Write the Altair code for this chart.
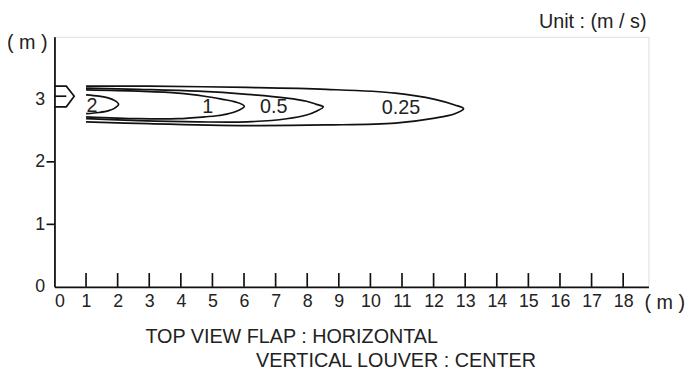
import altair as alt
import pandas as pd

# ---- data ----
X_TICKS = list(range(0, 19))
Y_TICKS = [0, 1, 2, 3]

# contour 0.25 (upper edge left->tip, then lower edge tip->left)
C025_X_UP = [1.0, 2.97, 6.10, 8.60, 10.79, 12.04, 12.67, 12.95]
C025_Y_UP = [3.21, 3.21, 3.19, 3.16, 3.10, 3.00, 2.91, 2.85]
C025_X_LO = [12.67, 12.04, 10.79, 8.60, 6.10, 2.97, 1.0]
C025_Y_LO = [2.77, 2.70, 2.62, 2.59, 2.58, 2.61, 2.64]

C05_X_UP = [1.0, 2.66, 4.54, 6.10, 7.35, 7.98, 8.29, 8.51]
C05_Y_UP = [3.18, 3.16, 3.13, 3.08, 3.02, 2.97, 2.92, 2.88]
C05_X_LO = [8.29, 7.98, 7.35, 6.10, 4.54, 2.66, 1.0]
C05_Y_LO = [2.81, 2.75, 2.69, 2.64, 2.64, 2.66, 2.69]

C1_X_UP = [1.0, 2.66, 3.91, 4.75, 5.32, 5.72, 6.01]
C1_Y_UP = [3.15, 3.13, 3.10, 3.05, 3.00, 2.96, 2.89]
C1_X_LO = [5.72, 5.32, 4.75, 3.91, 2.66, 1.0]
C1_Y_LO = [2.80, 2.75, 2.72, 2.69, 2.69, 2.72]

C2_X_UP = [1.0, 1.41, 1.72, 1.91, 2.03]
C2_Y_UP = [3.07, 3.05, 3.02, 2.98, 2.92]
C2_X_LO = [1.91, 1.72, 1.41, 1.0]
C2_Y_LO = [2.86, 2.82, 2.79, 2.77]

LABELS = ["2", "1", "0.5", "0.25"]
LABEL_X = [1.19, 4.85, 6.94, 10.97]
LABEL_Y = [2.89, 2.88, 2.87, 2.86]

# outlet arrow outline
ARROW_X = [0.0, 0.375, 0.625, 0.375, 0.0]
ARROW_Y = [3.21, 3.21, 3.05, 2.88, 2.88]
ARROW_MID_X = [0.0, 0.375]
ARROW_MID_Y = [3.05, 3.05]

FONT = "Liberation Sans"

rows = []
for name, xu, yu, xl, yl in [
    ("0.25", C025_X_UP, C025_Y_UP, C025_X_LO, C025_Y_LO),
    ("0.5", C05_X_UP, C05_Y_UP, C05_X_LO, C05_Y_LO),
    ("1", C1_X_UP, C1_Y_UP, C1_X_LO, C1_Y_LO),
    ("2", C2_X_UP, C2_Y_UP, C2_X_LO, C2_Y_LO),
]:
    xs = xu + xl
    ys = yu + yl
    for i, (a, b) in enumerate(zip(xs, ys)):
        rows.append({"c": name, "i": i, "x": a, "y": b})
contours = pd.DataFrame(rows)

arrow_rows = [{"g": "outline", "i": i, "x": a, "y": b} for i, (a, b) in enumerate(zip(ARROW_X, ARROW_Y))]
arrow_rows += [{"g": "mid", "i": i, "x": a, "y": b} for i, (a, b) in enumerate(zip(ARROW_MID_X, ARROW_MID_Y))]
arrow = pd.DataFrame(arrow_rows)

labels = pd.DataFrame({"t": LABELS, "x": LABEL_X, "y": LABEL_Y})
xt = pd.DataFrame({"x": X_TICKS[1:]})
yt = pd.DataFrame({"y": [1, 2]})

xscale = alt.Scale(domain=[0, 18.8], nice=False, zero=False)
yscale = alt.Scale(domain=[0, 4], nice=False, zero=False)

xaxis = alt.Axis(values=X_TICKS, ticks=False, grid=False, title=None, labelFlush=True,
                 labelOverlap=False, format="d",
                 labelFont=FONT, labelFontSize=18, labelColor="#222", labelPadding=6,
                 domainColor="#111", domainWidth=1.8, labelAngle=0)
yaxis = alt.Axis(values=Y_TICKS, ticks=False, grid=False, title=None,
                 labelOverlap=False, format="d",
                 labelFont=FONT, labelFontSize=18, labelColor="#222", labelPadding=10,
                 domainColor="#111", domainWidth=1.8)

X = alt.X("x:Q", scale=xscale, axis=xaxis)
Y = alt.Y("y:Q", scale=yscale, axis=yaxis)

base_line = alt.Chart(contours).mark_line(
    color="#111", strokeWidth=1.7, interpolate="catmull-rom"
).encode(x=X, y=Y, detail="c:N", order="i:Q")

arrow_line = alt.Chart(arrow).mark_line(color="#111", strokeWidth=1.7).encode(
    x=X, y=Y, detail="g:N", order="i:Q"
)

label_text = alt.Chart(labels).mark_text(
    font=FONT, fontSize=20, color="#222", align="center", baseline="middle"
).encode(x=X, y=Y, text="t:N")

x_ticks = alt.Chart(xt).mark_rule(color="#111", strokeWidth=1.7).encode(
    x=X, y=alt.value(253), y2=alt.value(239)
)
y_ticks = alt.Chart(yt).mark_rule(color="#111", strokeWidth=1.7).encode(
    y=Y, x=alt.value(-8), x2=alt.value(0)
)

def note(txt, px, py, align):
    return alt.Chart(pd.DataFrame({"t": [txt]})).mark_text(
        font=FONT, fontSize=20, color="#222", align=align, baseline="alphabetic"
    ).encode(x=alt.value(px), y=alt.value(py), text="t:N")

notes = (
    note("Unit : (m / s)", 599, -9, "right")
    + note("( m )", -7, 12, "right")
    + note("( m )", 597, 275, "left")
    + note("TOP VIEW FLAP : HORIZONTAL", 92, 310, "left")
    + note("VERTICAL LOUVER : CENTER", 204, 334, "left")
)

chart = alt.layer(base_line, arrow_line, label_text, x_ticks, y_ticks, notes).properties(
    width=601, height=253,
    autosize=alt.AutoSizeParams(type="none"),
    padding={"left": 47, "top": 27, "right": 38, "bottom": 86},
).configure_view(stroke="#111", strokeWidth=1.8).configure(background="white"
).configure_axisX(labelOverlap=False).configure_axisY(labelOverlap=False)

chart.save("out.html", embed_options={"renderer": "svg", "actions": False})
